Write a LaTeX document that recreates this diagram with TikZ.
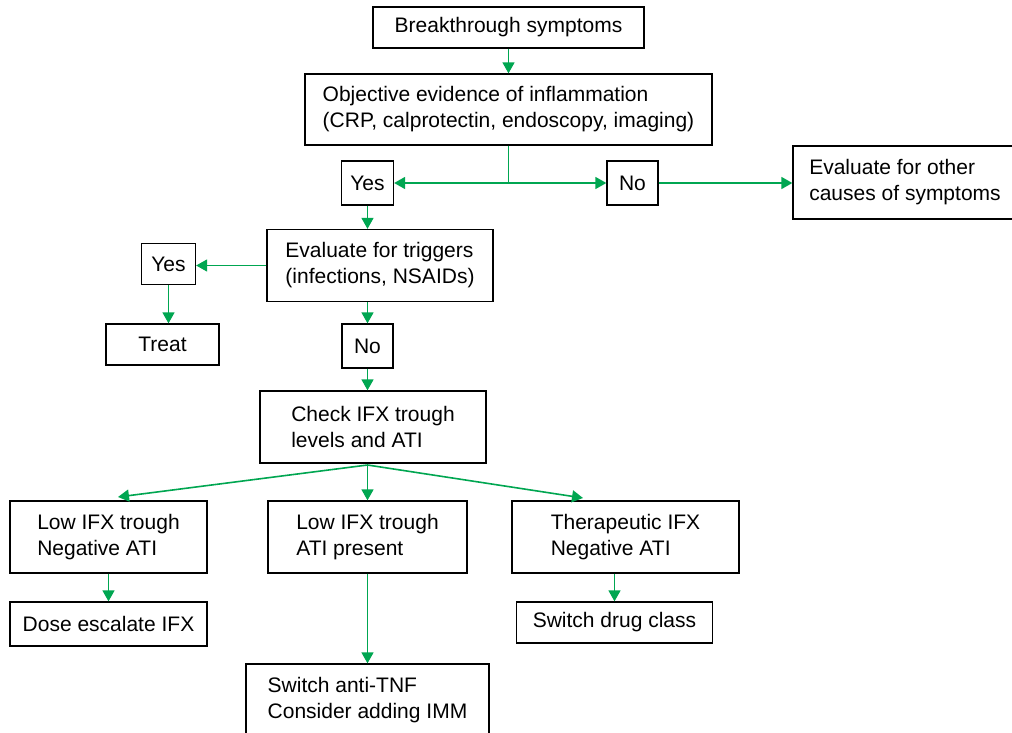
\documentclass[tikz,border=0pt]{standalone}
\usepackage{fontspec}
\setmainfont{Liberation Sans}
\usetikzlibrary{arrows.meta,calc}
\definecolor{flowgreen}{RGB}{0,166,81}
\begin{document}
\begin{tikzpicture}[x=1pt,y=-1pt,
  box/.style={draw=black,line width=1.3pt,align=left,inner sep=0pt,
    font=\fontsize{21}{26}\selectfont},
  link/.style={draw=flowgreen,line width=1.6pt,-{Triangle[length=11pt,width=12pt]}},
  plain/.style={draw=flowgreen,line width=1.6pt}]
\useasboundingbox (0,0) rectangle (1012,733);
\fill[white] (0,0) rectangle (1012,733);
\clip (0,0) rectangle (1012,733);

% boxes
\node[box,minimum width=271pt,minimum height=41pt] (b1) at (508.5,27.5) {Breakthrough symptoms};
\node[box,minimum width=407pt,minimum height=71pt] (obj) at (508.5,109.5)
  {Objective evidence of inflammation\\(CRP, calprotectin, endoscopy, imaging)};
\node[box,minimum width=52pt,minimum height=44pt] (yes1) at (367.5,183) {Yes};
\node[box,minimum width=51pt,minimum height=44pt] (no1) at (632.5,183) {No};
\node[box,minimum width=224pt,minimum height=73pt] (other) at (905,182.5)
  {Evaluate for other\\causes of symptoms};
\node[box,minimum width=226pt,minimum height=72pt] (trig) at (380,265.5)
  {Evaluate for triggers\\(infections, NSAIDs)};
\node[box,minimum width=54pt,minimum height=41pt] (yes2) at (168.5,264) {Yes};
\node[box,minimum width=113pt,minimum height=41pt] (treat) at (162.5,344.5) {Treat};
\node[box,minimum width=51pt,minimum height=44pt] (no2) at (367.5,346) {No};
\node[box,minimum width=226pt,minimum height=72pt] (check) at (373,427)
  {Check IFX trough\\levels and ATI};
\node[box,minimum width=197pt,minimum height=72pt] (low1) at (108.5,537)
  {Low IFX trough\\Negative ATI};
\node[box,minimum width=199pt,minimum height=72pt] (low2) at (367.5,537)
  {Low IFX trough\\ATI present};
\node[box,minimum width=227pt,minimum height=72pt] (ther) at (625.5,537)
  {Therapeutic IFX\\Negative ATI};
\node[box,minimum width=197pt,minimum height=44pt] (dose) at (108.5,624) {Dose escalate IFX};
\node[box,minimum width=196pt,minimum height=41pt] (swd) at (614.5,622.5) {Switch drug class};
\node[box,minimum width=243pt,minimum height=72pt] (anti) at (367.5,700)
  {Switch anti-TNF\\Consider adding IMM};

% branch points and arrow ends
\coordinate (s1) at (508.5,183);
\coordinate (s2) at (367.5,465);
\coordinate (t1) at (118,497);
\coordinate (t3) at (583,498);

% connectors
\draw[link] (b1.south) -- (b1.south |- obj.north);
\draw[plain] (obj.south) -- (s1);
\draw[link] (s1) -- (yes1.east);
\draw[link] (s1) -- (no1.west);
\draw[link] (no1.east) -- (no1.east -| other.west);
\draw[link] (yes1.south) -- (yes1.south |- trig.north);
\draw[link] (trig.west) -- (trig.west -| yes2.east);
\draw[link] (yes2.south) -- (yes2.south |- treat.north);
\draw[link] (no2.north |- trig.south) -- (no2.north);
\draw[link] (no2.south) -- (no2.south |- check.north);
\draw[plain] (s2 |- check.south) -- (s2);
\draw[link] (s2) -- (t1);
\draw[link] (s2) -- (s2 |- low2.north);
\draw[link] (s2) -- (t3);
\draw[link] (low1.south) -- (low1.south |- dose.north);
\draw[link] (low2.south) -- (low2.south |- anti.north);
\draw[link] (swd.north |- ther.south) -- (swd.north);
\end{tikzpicture}
\end{document}
